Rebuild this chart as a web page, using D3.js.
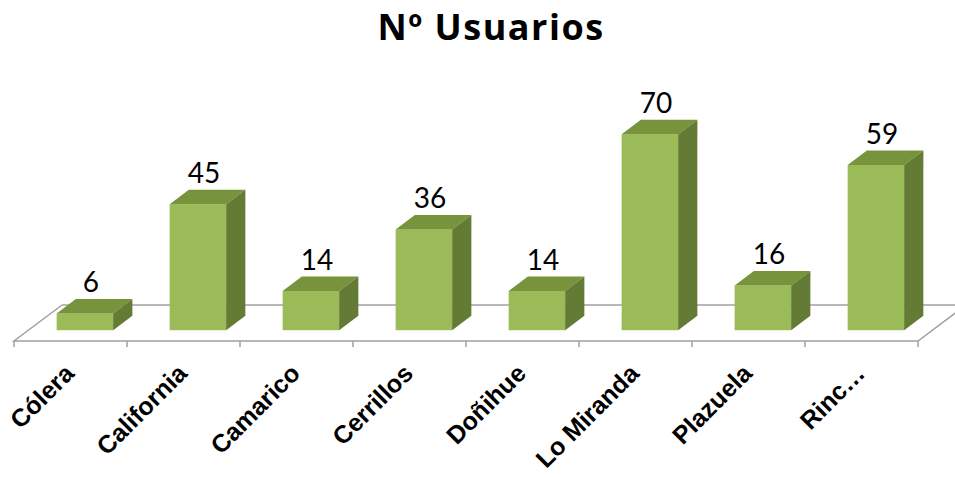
<!DOCTYPE html>
<html>
<head>
<meta charset="utf-8">
<script src="https://cdn.jsdelivr.net/npm/d3@7"></script>
<style>
  body { margin: 0; background: #fff; }
  svg { display: block; }
</style>
</head>
<body>
<svg id="chart" width="955" height="477"></svg>
<script>
const categories = ["Cólera", "California", "Camarico", "Cerrillos", "Doñihue", "Lo Miranda", "Plazuela", "Rinc…"]
const usuarios = [6, 45, 14, 36, 14, 70, 16, 59]
const title = "Nº Usuarios"

const svg = d3.select("#chart")

// floor: front edge and depth vector (pseudo 3D like excel)
const floor = { left: 14, right: 918, y: 341, dx: 48, dy: -36 }
const depthFront = 0.3, depthBack = 0.7

const x = d3.scaleBand()
    .domain(categories)
    .range([floor.left, floor.right])
    .paddingInner(0)

const h = d3.scaleLinear()
    .domain([0, 70])
    .range([0, 196])

const colors = { front: "#9bbb59", top: "#77933c", side: "#637b34", floor: "#a0a0a0" }

svg.append("text")
    .attr("x", 491)
    .attr("y", 40)
    .attr("text-anchor", "middle")
    .style("font-family", "'Open Sans', Lato, sans-serif")
    .style("font-weight", "bold")
    .style("font-size", "36px")
    .style("letter-spacing", "1.5px")
    .text(title)

// floor lines
const g = svg.append("g")
g.append("line")
    .attr("x1", floor.left + floor.dx).attr("y1", floor.y + floor.dy)
    .attr("x2", floor.right + floor.dx).attr("y2", floor.y + floor.dy)
    .attr("stroke", colors.floor).attr("stroke-width", 1.5)
g.append("path")
    .attr("d", `M${floor.left + floor.dx},${floor.y + floor.dy}L${floor.left},${floor.y}L${floor.right},${floor.y}L${floor.right + floor.dx},${floor.y + floor.dy}`)
    .attr("fill", "none")
    .attr("stroke", colors.floor).attr("stroke-width", 1.5)

const tickPos = categories.map(d => x(d)).concat([floor.right])
g.selectAll(".tick")
    .data(tickPos)
    .enter().append("line")
    .attr("class", "tick")
    .attr("x1", d => d).attr("x2", d => d)
    .attr("y1", floor.y).attr("y2", floor.y + 6)
    .attr("stroke", colors.floor).attr("stroke-width", 1.5)

// bars
const bw = x.bandwidth() * 0.5
const ox = floor.dx * depthFront, oy = floor.dy * depthFront
const bdx = floor.dx * (depthBack - depthFront), bdy = floor.dy * (depthBack - depthFront)

const bars = svg.append("g").selectAll(".bar")
    .data(categories.map((c, i) => ({ c, v: usuarios[i] })))
    .enter().append("g")
    .attr("class", "bar")

const x0 = d => x(d.c) + x.bandwidth() * 0.25 + ox
const yb = floor.y + oy
const yt = d => yb - h(d.v)

bars.append("rect")
    .attr("x", x0)
    .attr("y", yt)
    .attr("width", bw)
    .attr("height", d => h(d.v))
    .attr("fill", colors.front)
bars.append("path")
    .attr("d", d => `M${x0(d)},${yt(d)}l${bdx},${bdy}h${bw}l${-bdx},${-bdy}Z`)
    .attr("fill", colors.top)
bars.append("path")
    .attr("d", d => `M${x0(d) + bw},${yt(d)}l${bdx},${bdy}V${yb + bdy}l${-bdx},${-bdy}Z`)
    .attr("fill", colors.side)

bars.append("text")
    .attr("x", d => x0(d) + bw / 2 + 6)
    .attr("y", d => yt(d) + bdy - 7)
    .attr("text-anchor", "middle")
    .style("font-family", "Lato, 'Open Sans', sans-serif")
    .style("font-size", "28px")
    .text(d => d.v)

// category labels
svg.append("g").selectAll(".xLabel")
    .data(categories)
    .enter().append("text")
    .attr("class", "xLabel")
    .attr("text-anchor", "end")
    .attr("transform", d => `translate(${x(d) + x.bandwidth() / 2 + 5},${375}) rotate(-45)`)
    .style("font-family", "'Liberation Sans', Arial, sans-serif")
    .style("font-weight", "bold")
    .style("font-size", "25px")
    .text(d => d)
</script>
</body>
</html>
